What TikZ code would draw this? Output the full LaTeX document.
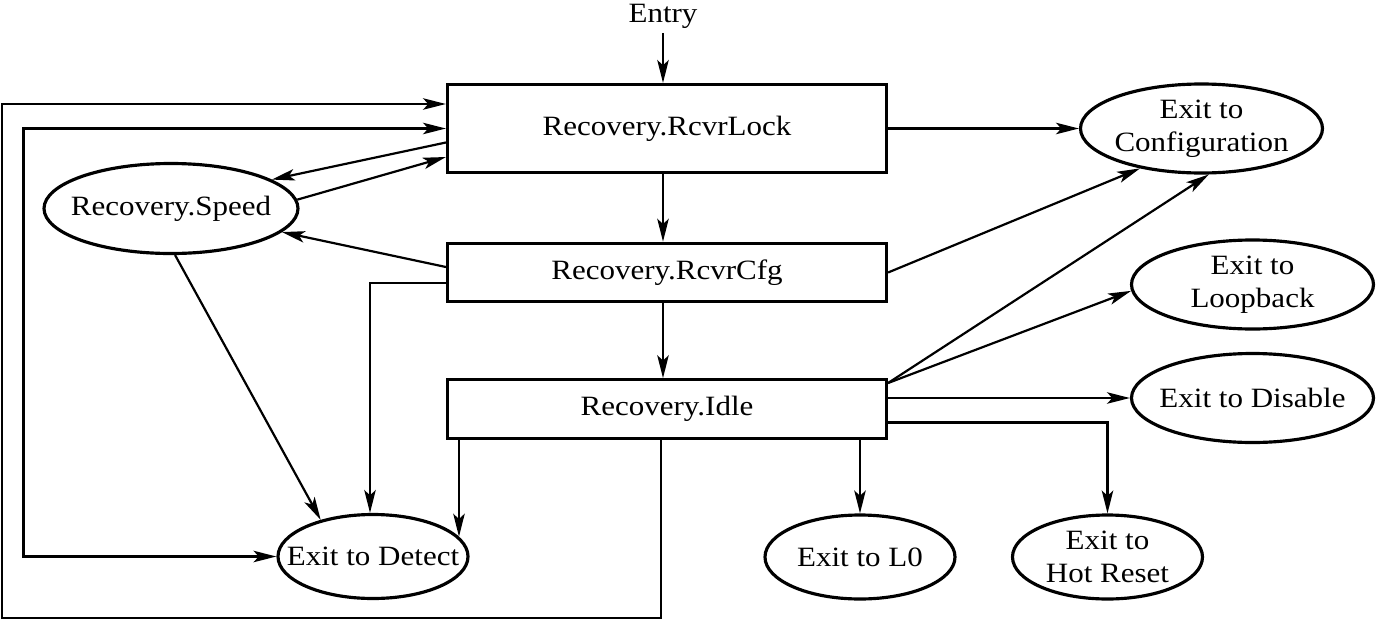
\documentclass[tikz,border=0pt]{standalone}
\usepackage{fontspec}
\setmainfont{Liberation Serif}[FakeStretch=1.11]
\usetikzlibrary{arrows.meta, positioning, shapes}

\begin{document}
\begin{tikzpicture}[%
    ->,
    >= { Stealth[length=4.6mm, width=2.3mm, inset=1.1mm] },
    on grid,
    line width = 1.25pt,
    font = \fontsize{15.9}{18.8}\selectfont,
    box/.style = {%
      rectangle,
      draw,
      line width = 1.8pt,
      minimum width = 8.78cm,
      minimum height = 1.17cm },
    oval/.style = {%
      ellipse,
      draw,
      line width = 1.8pt,
      align = center,
      inner xsep = -0.4cm,
      inner ysep = -0.2cm,
      minimum width = 3.8cm,
      minimum height = 1.68cm },
    wide/.style = {minimum width = 4.84cm, minimum height = 1.78cm}
  ]

\useasboundingbox (0,0) rectangle (27.56,-12.38);

\node[box, minimum height=1.76cm] (Lock) at (13.34,-2.57) {Recovery.RcvrLock};
\node (Entry) [above left=2.25cm and 0.08cm of Lock, inner sep=2pt] {Entry};
\node[box] (Cfg) [below=2.88cm of Lock] {Recovery.RcvrCfg};
\node[box] (Idle) [below=2.73cm of Cfg] {Recovery.Idle};
\node[oval, minimum width=5.08cm, minimum height=1.8cm] (Speed) [below left=1.6cm and 9.92cm of Lock] {Recovery.Speed};
\node[oval, wide] (Config) [right=10.69cm of Lock] {Exit to\\Configuration};
\node[oval, wide] (Loopback) [below right=3.12cm and 1.02cm of Config] {Exit to\\Loopback};
\node[oval, wide] (Disable) [below=2.27cm of Loopback] {Exit to Disable};
\node[oval] (Detect) [below left=2.95cm and 5.88cm of Idle] {Exit to Detect};
\node[oval] (L0) [below right=2.96cm and 3.86cm of Idle] {Exit to L0};
\node[oval] (HotReset) [right=4.95cm of L0] {Exit to\\Hot Reset};

\path
(Entry) edge (Entry |- Lock.north)
([xshift=-0.08cm]Lock.south) edge ([xshift=-0.08cm]Cfg.north)
([xshift=-0.08cm]Cfg.south) edge ([xshift=-0.08cm]Idle.north)

([yshift=-0.28cm]Lock.west) edge (Speed.16)
(Speed.4) edge ([yshift=-0.57cm]Lock.west)
([yshift=0.11cm]Cfg.west) edge (Speed.-12)
(Speed.-85) edge (Detect.145)
(Detect.13 |- Idle.south) edge (Detect.13)

(Lock.east) edge (Config.west)
(Cfg.east) edge (Config.213)
([yshift=0.52cm]Idle.east) edge (Config.-81)
([yshift=0.52cm]Idle.east) edge (Loopback.183)
(Idle.east |- Disable.west) edge (Disable.west)
(L0.north |- Idle.south) edge (L0.north);

\draw ([yshift=-0.21cm]Cfg.west) -| ([xshift=-0.06cm]Detect.north);
\draw ([yshift=-0.27cm]Idle.east) -| (HotReset.north);
\draw[<->] (Detect.west) -| ([xshift=-8.45cm]Lock.west) -- (Lock.west);
\draw ([xshift=-0.12cm]Idle.south) -- ++(0,-3.56) -- ++(-13.18,0) |- ([yshift=0.49cm]Lock.west);

\end{tikzpicture}
\end{document}
